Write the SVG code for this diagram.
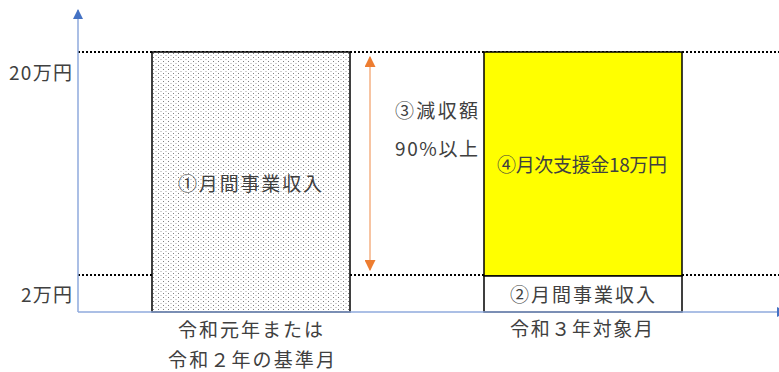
<svg xmlns="http://www.w3.org/2000/svg" width="779" height="372" viewBox="0 0 779 372">
  <style>
    text { font-family: "Noto Sans CJK JP", "Noto Sans", sans-serif; font-size: 19px; fill: #404040; }
    .guide { stroke: #000; stroke-width: 2; stroke-dasharray: 2 2; fill: none; }
    .axis { stroke: #8FAADC; stroke-width: 1.5; fill: none; }
    .box { stroke: #000; stroke-width: 1.5; }
    .dbl { stroke: #F4B183; stroke-width: 1.5; fill: none; }
  </style>
  <defs>
    <pattern id="dots" width="5" height="4" patternUnits="userSpaceOnUse" x="152" y="52">
      <rect width="5" height="4" fill="#ffffff"/>
      <rect x="1" y="1" width="1" height="1" fill="#7f7f7f"/>
      <rect x="3.5" y="3" width="1" height="1" fill="#a6a6a6"/>
    </pattern>
    <marker id="blueHead" markerWidth="10" markerHeight="12" refX="9" refY="5" orient="auto" markerUnits="userSpaceOnUse" viewBox="0 0 10 10">
      <path d="M0,0 L10,5 L0,10 Z" fill="#4472C4"/>
    </marker>
    <marker id="orangeHead" markerWidth="11" markerHeight="11" refX="9" refY="5" orient="auto-start-reverse" markerUnits="userSpaceOnUse" viewBox="0 0 10 10">
      <path d="M0,0 L10,5 L0,10 Z" fill="#ED7D31"/>
    </marker>
  </defs>

  <g id="guides">
    <line class="guide" x1="78" y1="52" x2="779" y2="52"/>
    <line class="guide" x1="78" y1="275" x2="779" y2="275"/>
  </g>

  <g id="box-base">
    <rect class="box" x="152" y="52" width="198" height="260" fill="url(#dots)"/>
    <text x="178" y="191" textLength="144" lengthAdjust="spacing">①月間事業収入</text>
  </g>

  <g id="box-support">
    <rect class="box" x="484" y="52" width="198" height="224" fill="#FFFF00"/>
    <text x="497" y="172" textLength="170" lengthAdjust="spacing">④月次支援金18万円</text>
  </g>

  <g id="box-income">
    <rect class="box" x="484" y="276" width="198" height="36" fill="#FFFFFF"/>
    <text x="510" y="302" textLength="145" lengthAdjust="spacing">②月間事業収入</text>
  </g>

  <g id="connectors">
    <line class="axis" x1="78" y1="312" x2="78" y2="10" marker-end="url(#blueHead)"/>
    <line class="axis" x1="78" y1="312" x2="786" y2="312" marker-end="url(#blueHead)"/>
    <line class="dbl" x1="370" y1="57" x2="370" y2="270" marker-start="url(#orangeHead)" marker-end="url(#orangeHead)"/>
  </g>

  <g id="labels">
    <text x="9" y="80" textLength="63" lengthAdjust="spacing">20万円</text>
    <text x="21" y="302" textLength="51" lengthAdjust="spacing">2万円</text>
    <text x="395" y="118" textLength="83" lengthAdjust="spacing">③減収額</text>
    <text x="395" y="156" textLength="83" lengthAdjust="spacing">90%以上</text>
    <text x="178" y="337" textLength="145" lengthAdjust="spacing">令和元年または</text>
    <text x="168" y="367" textLength="167" lengthAdjust="spacing">令和２年の基準月</text>
    <text x="510" y="336" textLength="143" lengthAdjust="spacing">令和３年対象月</text>
  </g>
</svg>
